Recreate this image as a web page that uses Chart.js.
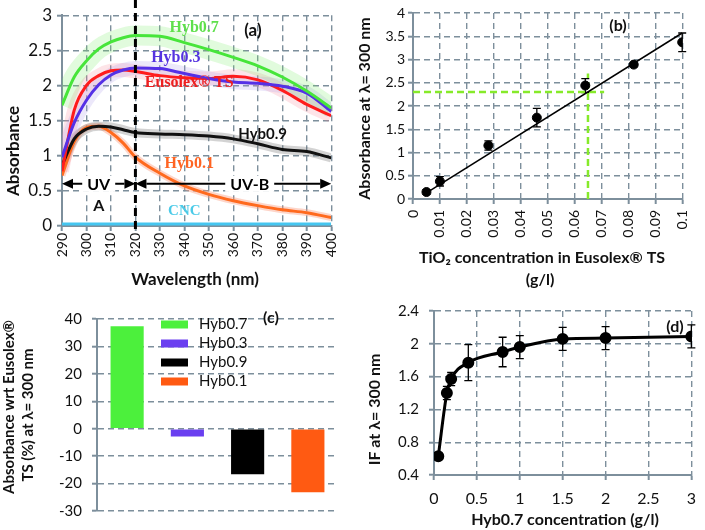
<!DOCTYPE html>
<html>
<head>
<meta charset="utf-8">
<script src="https://cdn.jsdelivr.net/npm/chart.js@4.4.1/dist/chart.umd.min.js"></script>
<style>
  body { margin: 0; background: #fff; }
  #wrap { position: relative; width: 705px; height: 530px; overflow: hidden; }
  canvas { position: absolute; }
</style>
</head>
<body>
<div id="wrap">
  <canvas id="chartA" width="350" height="290" style="left:0;top:0"></canvas>
  <canvas id="chartB" width="355" height="291" style="left:350px;top:0"></canvas>
  <canvas id="chartC" width="350" height="230" style="left:0;top:300px"></canvas>
  <canvas id="chartD" width="355" height="238" style="left:350px;top:292px"></canvas>
</div>
<script>
// (a) absorbance spectra
const wavelengths = [290, 295, 300, 305, 310, 315, 320, 330, 340, 350, 360, 370, 380, 390, 400];
const hyb07 = [1.72, 2.12, 2.35, 2.52, 2.62, 2.68, 2.71, 2.70, 2.61, 2.51, 2.40, 2.28, 2.12, 1.92, 1.68];
const hyb03 = [0.98, 1.47, 1.79, 2.01, 2.15, 2.22, 2.25, 2.24, 2.17, 2.10, 2.05, 2.03, 1.99, 1.89, 1.63];
const eusolex = [0.78, 1.65, 2.00, 2.14, 2.21, 2.22, 2.20, 2.14, 2.11, 2.10, 2.13, 2.08, 1.93, 1.73, 1.57];
const hyb09 = [0.86, 1.24, 1.38, 1.42, 1.41, 1.37, 1.33, 1.31, 1.30, 1.28, 1.24, 1.17, 1.09, 1.06, 0.97];
const hyb01 = [0.72, 1.20, 1.40, 1.42, 1.33, 1.18, 0.98, 0.75, 0.57, 0.45, 0.36, 0.29, 0.23, 0.19, 0.12];
const cnc = [0.03, 0.03, 0.03, 0.03, 0.03, 0.03, 0.03, 0.03, 0.03, 0.03, 0.03, 0.03, 0.03, 0.03, 0.03];
const uvSplit = 320;
const arrowLevel = 0.6;

// (b) calibration
const tio2Conc = [0.005, 0.01, 0.028, 0.046, 0.064, 0.082, 0.1];
const abs300 = [0.15, 0.38, 1.15, 1.75, 2.44, 2.89, 3.37];
const abs300Err = [0.05, 0.1, 0.1, 0.2, 0.15, 0.05, 0.2];
const fitSlope = 36.2;
const fitIntercept = -0.05;
const fitRange = [0.005, 0.1];
const guideConc = 0.065, guideAbs = 2.3;
const guideConcEnd = 0.071, guideAbsEnd = 2.7;

// (c) relative absorbance
const samples = ['Hyb0.7', 'Hyb0.3', 'Hyb0.9', 'Hyb0.1'];
const relAbs = [37.4, -2.8, -16.6, -23.2];

// (d) IF vs concentration
const hybConc = [0.05, 0.15, 0.2, 0.4, 0.8, 1, 1.5, 2, 3];
const ifVals = [0.63, 1.4, 1.57, 1.77, 1.9, 1.96, 2.06, 2.07, 2.09];
const ifErr = [0, 0.08, 0.08, 0.22, 0.18, 0.14, 0.14, 0.14, 0.14];

const gridCol = '#7d8f9c';
const txt = '#111';
const fmt = v => String(+v.toFixed(2));

Chart.defaults.font.family = 'Lato';
Chart.defaults.color = txt;

function pts(xs, ys) {
    return xs.map((x, i) => ({ x: x, y: ys[i] }));
}

function axis(o) {
    return {
        type: 'linear',
        min: o.min, max: o.max,
        ticks: {
            stepSize: o.step, callback: fmt, color: txt,
            font: { size: o.size }, padding: o.pad,
            minRotation: o.rot || 0, maxRotation: o.rot || 0
        },
        grid: { color: gridCol, lineWidth: 1.4, tickLength: 5, tickColor: gridCol, tickWidth: 2,
                borderDash: [6, 4], display: o.grid !== false },
        border: { color: gridCol, width: 2, dash: [6, 4] },
        afterFit: o.fit
    };
}

function textPlugin(id, items) {
    return {
        id: id,
        afterDraw(chart) {
            const ctx = chart.ctx;
            items.forEach(it => {
                ctx.save();
                ctx.font = it.font;
                ctx.fillStyle = it.color || txt;
                ctx.textAlign = 'center';
                ctx.textBaseline = 'middle';
                ctx.translate(it.x, it.y);
                if (it.rotate) ctx.rotate(-Math.PI / 2);
                ctx.fillText(it.text, 0, 0);
                ctx.restore();
            });
        }
    };
}

function errorPlugin(id, xs, ys, errs) {
    return {
        id: id,
        beforeDatasetsDraw(chart) {
            const { ctx, scales: { x, y } } = chart;
            ctx.save();
            ctx.strokeStyle = '#000';
            ctx.lineWidth = 1.3;
            xs.forEach((v, i) => {
                if (!errs[i]) return;
                const px = x.getPixelForValue(v);
                const top = y.getPixelForValue(ys[i] + errs[i]);
                const bot = y.getPixelForValue(ys[i] - errs[i]);
                ctx.beginPath();
                ctx.moveTo(px, top); ctx.lineTo(px, bot);
                ctx.moveTo(px - 4, top); ctx.lineTo(px + 4, top);
                ctx.moveTo(px - 4, bot); ctx.lineTo(px + 4, bot);
                ctx.stroke();
            });
            ctx.restore();
        }
    };
}

// ---------- (a) ----------
function drawArrow(ctx, x1, x2, y) {
    const h = 11, w = 5;
    ctx.lineWidth = 2;
    ctx.beginPath(); ctx.moveTo(x1 + h, y); ctx.lineTo(x2 - h, y); ctx.stroke();
    ctx.beginPath(); ctx.moveTo(x1, y); ctx.lineTo(x1 + h, y - w); ctx.lineTo(x1 + h, y + w); ctx.closePath(); ctx.fill();
    ctx.beginPath(); ctx.moveTo(x2, y); ctx.lineTo(x2 - h, y - w); ctx.lineTo(x2 - h, y + w); ctx.closePath(); ctx.fill();
}

const seriesLabels = [
    { text: 'Hyb0.7', x: 344, y: 2.82, color: '#5fe04c', font: 'bold 16px "Liberation Serif"' },
    { text: 'Hyb0.3', x: 336.5, y: 2.40, color: '#5533e0', font: 'bold 16px "Liberation Serif"' },
    { text: 'Eusolex® TS', x: 342, y: 2.03, color: '#ee2020', font: 'bold 16px "Liberation Serif"' },
    { text: 'Hyb0.9', x: 372, y: 1.31, color: '#111', font: 'bold 15px Lato' },
    { text: 'Hyb0.1', x: 342, y: 0.89, color: '#ff6422', font: 'bold 16px "Liberation Serif"' },
    { text: 'CNC', x: 340, y: 0.21, color: '#4ccbe8', font: 'bold 15px "Liberation Serif"' },
    { text: 'A', x: 305, y: 0.29, color: '#111', font: 'bold 16px Lato' },
    { text: '(a)', x: 368, y: 2.78, color: '#111', font: 'bold 17px Lato' }
];

const annotA = {
    id: 'annotA',
    afterDatasetsDraw(chart) {
        const { ctx, scales: { x, y }, chartArea } = chart;
        ctx.save();
        const xd = x.getPixelForValue(uvSplit);
        ctx.strokeStyle = '#000';
        ctx.fillStyle = '#000';
        ctx.lineWidth = 3;
        ctx.setLineDash([8, 5]);
        ctx.beginPath(); ctx.moveTo(xd, 0); ctx.lineTo(xd, chartArea.bottom + 4); ctx.stroke();
        ctx.setLineDash([]);
        const ya = y.getPixelForValue(arrowLevel);
        drawArrow(ctx, x.getPixelForValue(290), xd, ya);
        drawArrow(ctx, xd, x.getPixelForValue(400), ya);
        ctx.font = 'bold 16px Lato';
        ctx.textAlign = 'center';
        ctx.textBaseline = 'middle';
        [['UV', 305], ['UV-B', 366.7]].forEach(([t, v]) => {
            const px = x.getPixelForValue(v);
            const w = ctx.measureText(t).width + 10;
            ctx.fillStyle = '#fff';
            ctx.fillRect(px - w / 2, ya - 8, w, 16);
            ctx.fillStyle = '#000';
            ctx.fillText(t, px, ya + 1);
        });
        seriesLabels.forEach(l => {
            ctx.font = l.font;
            ctx.fillStyle = l.color;
            ctx.fillText(l.text, x.getPixelForValue(l.x), y.getPixelForValue(l.y));
        });
        ctx.restore();
    }
};

function halo(arr, color, width) {
    return { data: pts(wavelengths, arr), borderColor: color, borderWidth: width, pointRadius: 0,
        cubicInterpolationMode: 'monotone', order: 10 };
}
function curve(arr, color, width) {
    return { data: pts(wavelengths, arr), borderColor: color, borderWidth: width || 3, pointRadius: 0,
        cubicInterpolationMode: 'monotone', order: 1 };
}

new Chart(document.getElementById('chartA'), {
    type: 'line',
    data: {
        datasets: [
            curve(hyb07, '#47e53a'),
            curve(hyb03, '#5530e6'),
            curve(eusolex, '#ff1c1c'),
            curve(hyb09, '#111'),
            curve(hyb01, '#ff6a1e'),
            curve(cnc, '#45c6f0'),
            halo(hyb07, 'rgba(120,235,100,0.22)', 20),
            halo(hyb03, 'rgba(170,150,230,0.22)', 14),
            halo(eusolex, 'rgba(245,130,150,0.22)', 14),
            halo(hyb09, 'rgba(110,110,110,0.3)', 9),
            halo(hyb01, 'rgba(250,150,120,0.4)', 7)
        ]
    },
    options: {
        responsive: false,
        animation: false,
        layout: { padding: { top: 10, right: 14 } },
        plugins: { legend: { display: false }, tooltip: { enabled: false } },
        scales: {
            x: axis({ min: 290, max: 400, step: 10, size: 14, pad: 2, rot: 90, fit: s => { s.height = 64; } }),
            y: axis({ min: 0, max: 3, step: 0.5, size: 17, pad: 5, fit: s => { s.width = 62; } })
        }
    },
    plugins: [annotA, textPlugin('titlesA', [
        { text: 'Absorbance', x: 13.5, y: 151, rotate: true, font: 'bold 17px Lato' },
        { text: 'Wavelength (nm)', x: 195, y: 280, font: 'bold 17px Lato' }
    ])]
});

// ---------- (b) ----------
const guideStyle = { borderColor: '#86ea2a', borderWidth: 2.5, borderDash: [7, 4], pointRadius: 0, showLine: true };

new Chart(document.getElementById('chartB'), {
    type: 'scatter',
    data: {
        datasets: [
            { data: pts(tio2Conc, abs300), backgroundColor: '#000', borderColor: '#000', pointRadius: 4.5 },
            { data: fitRange.map(v => ({ x: v, y: fitSlope * v + fitIntercept })), showLine: true,
              borderColor: '#000', borderWidth: 1.5, pointRadius: 0 },
            Object.assign({ data: [{ x: 0, y: guideAbs }, { x: guideConcEnd, y: guideAbs }] }, guideStyle),
            Object.assign({ data: [{ x: guideConc, y: 0 }, { x: guideConc, y: guideAbsEnd }] }, guideStyle)
        ]
    },
    options: {
        responsive: false,
        animation: false,
        layout: { padding: { top: 13, right: 8 } },
        plugins: { legend: { display: false }, tooltip: { enabled: false } },
        scales: {
            x: axis({ min: 0, max: 0.1, step: 0.01, size: 14, pad: 6, rot: 90, fit: s => { s.height = 92; } }),
            y: axis({ min: 0, max: 4, step: 0.5, size: 14, pad: 3, fit: s => { s.width = 63; } })
        }
    },
    plugins: [errorPlugin('errB', tio2Conc, abs300, abs300Err), textPlugin('titlesB', [
        { text: 'Absorbance at λ= 300 nm', x: 15, y: 108.5, rotate: true, font: 'bold 16px Lato' },
        { text: 'TiO₂ concentration in Eusolex® TS', x: 192, y: 258, font: 'bold 16px Lato' },
        { text: '(g/l)', x: 190, y: 280, font: 'bold 16px Lato' },
        { text: '(b)', x: 268, y: 26, font: 'bold 16px Lato' }
    ])]
});

// ---------- (c) ----------
const barColors = ['#4cf03c', '#6a3ff0', '#000000', '#ff5a12'];

const legendC = {
    id: 'legendC',
    afterDraw(chart) {
        const { ctx, chartArea } = chart;
        ctx.save();
        ctx.font = '15px Lato';
        ctx.textBaseline = 'middle';
        samples.forEach((s, i) => {
            const yy = chartArea.top + 5.5 + i * 19;
            ctx.fillStyle = barColors[i];
            ctx.fillRect(chartArea.left + 64, yy - 4, 27, 8);
            ctx.fillStyle = txt;
            ctx.fillText(s, chartArea.left + 102, yy);
        });
        ctx.restore();
    }
};

new Chart(document.getElementById('chartC'), {
    type: 'bar',
    data: {
        labels: samples,
        datasets: [{ data: relAbs, backgroundColor: barColors, categoryPercentage: 1, barPercentage: 0.55 }]
    },
    options: {
        responsive: false,
        animation: false,
        layout: { padding: { top: 12, right: 12, bottom: 16 } },
        plugins: { legend: { display: false }, tooltip: { enabled: false } },
        scales: {
            x: { display: false },
            y: axis({ min: -30, max: 40, step: 10, size: 15, pad: 10, fit: s => { s.width = 97; } })
        }
    },
    plugins: [legendC, textPlugin('titlesC', [
        { text: 'Absorbance wrt Eusolex®', x: 9, y: 107, rotate: true, font: 'bold 15px Lato' },
        { text: 'TS (%) at λ= 300 nm', x: 28, y: 115, rotate: true, font: 'bold 15px Lato' },
        { text: '(c)', x: 271, y: 18, font: 'bold 16px Lato' }
    ])]
});

// ---------- (d) ----------
new Chart(document.getElementById('chartD'), {
    type: 'scatter',
    data: {
        datasets: [{
            data: pts(hybConc, ifVals), showLine: true, cubicInterpolationMode: 'monotone',
            borderColor: '#000', borderWidth: 3, backgroundColor: '#000', pointRadius: 4.5
        }]
    },
    options: {
        responsive: false,
        animation: false,
        layout: { padding: { top: 16, right: 8 } },
        plugins: { legend: { display: false }, tooltip: { enabled: false } },
        scales: {
            x: axis({ min: 0, max: 3, step: 0.5, size: 16, pad: 9, fit: s => { s.height = 55; } }),
            y: axis({ min: 0.4, max: 2.4, step: 0.4, size: 15, pad: 10, fit: s => { s.width = 84; } })
        }
    },
    plugins: [errorPlugin('errD', hybConc, ifVals, ifErr), textPlugin('titlesD', [
        { text: 'IF at λ= 300 nm', x: 25, y: 117.5, rotate: true, font: 'bold 16px Lato' },
        { text: 'Hyb0.7 concentration (g/l)', x: 215, y: 228, font: 'bold 16px Lato' },
        { text: '(d)', x: 325, y: 35, font: 'bold 16px Lato' }
    ])]
});
</script>
</body>
</html>
